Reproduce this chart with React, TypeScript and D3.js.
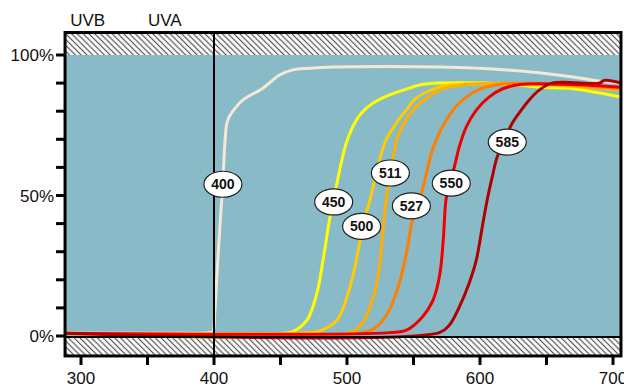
import * as d3 from "d3";
import { useEffect, useRef } from "react";

const WIDTH = 624;
const HEIGHT = 390;

// long-pass filter transmission curves: [wavelength nm, transmission %]
const curve400: [number, number][] = [
  [288, 1.2], [396, 1.2], [399, 1.5], [400.5, 8], [402, 20], [403, 28], [405, 43],
  [406.6, 54], [408.1, 68], [409.4, 75], [411, 77.6], [413.1, 79.3], [421.8, 84],
  [436.8, 88.2], [449.3, 92.9], [459.3, 94.7], [471.8, 95.3], [490, 95.7], [570, 95.7],
  [620, 94.7], [670, 92.2], [690, 90.7], [706, 90],
];
const curve450: [number, number][] = [
  [288, 1], [452, 1], [459.4, 1.6], [470, 5.7], [477.4, 15.3], [482, 27], [487.2, 42.3],
  [491.9, 53.1], [495.6, 61.5], [499.4, 68.6], [504.4, 74.5], [510.7, 79.3],
  [519.4, 82.8], [532, 85.8], [547, 88.2], [554.4, 89.3], [570, 90], [620, 89.7],
  [645, 88.5], [670, 88], [706, 85],
];
const curve500: [number, number][] = [
  [288, 1], [470, 1.2], [479.6, 1.8], [492.5, 5.7], [500, 13.9], [506, 24.6],
  [509.8, 34.2], [511.3, 38.8], [517.3, 48.4], [524.4, 62.6], [529.4, 69.8],
  [536.9, 75.7], [544.4, 80.4], [551.9, 84.6], [567.6, 88.3], [577.5, 89.3],
  [600, 89.8], [650, 89.5], [706, 87.5],
];
const curve511: [number, number][] = [
  [288, 1], [501.9, 1.2], [511.6, 4.6], [519.1, 12.8], [524.4, 24.6], [526.9, 36.7],
  [529.4, 48.4], [532, 56], [534.4, 62.6], [538.1, 70.9], [544.4, 76.9], [551.9, 81.6],
  [560, 84.6], [569.4, 87.5], [577, 88.6], [600, 89.8], [650, 89.5], [706, 87.5],
];
const curve527: [number, number][] = [
  [288, 1], [511.6, 1.2], [522.1, 3.2], [531.9, 9.3], [539.4, 18.9], [544.7, 29.5],
  [549.2, 41.3], [556, 50.9], [559.7, 58], [564.2, 66.2], [569.4, 72.2], [577, 78.6],
  [584.4, 82.9], [594.2, 86.5], [604.7, 88.6], [620, 89.8], [660, 89.6], [706, 88],
];
const curve550: [number, number][] = [
  [288, 1], [531.9, 1.2], [544.7, 2.1], [556.7, 6.8], [564, 12], [567.6, 17],
  [570.4, 24], [572.5, 35], [574.4, 48.4], [577, 54.4], [580.7, 60.1], [584.4, 67.3],
  [589.7, 74.4], [597.2, 80.4], [607, 85.1], [616.7, 87.9], [630, 89.5], [670, 89.5],
  [706, 88.5],
];
const curve585: [number, number][] = [
  [288, 1], [569.4, 1.2], [577, 3.9], [584.4, 10.3], [591.9, 18.9], [597.2, 27],
  [601.7, 38.8], [605.4, 48.4], [609.2, 56.6], [612.9, 63.7], [618, 69], [623.5, 75.1],
  [629.5, 79.4], [637, 84], [644.5, 87.5], [654.2, 90], [689.5, 90], [694, 91], [706, 90],
];

const filterNames = ["400", "450", "500", "511", "527", "550", "585"];
const filterCurves = [curve400, curve450, curve500, curve511, curve527, curve550, curve585];
const labelWavelengths = [406.7, 490, 511, 532.6, 548.4, 578.4, 620.5];
const labelTransmissions = [54, 47.7, 39, 58, 46.3, 54.4, 69];

const xTicks = [300, 350, 400, 450, 500, 550, 600, 650, 700];
const xTickLabels = [300, 400, 500, 600, 700];
const yTicks = [0, 10, 20, 30, 40, 50, 60, 70, 80, 90, 100];
const yTickLabels = [0, 50, 100];
const bandNames = ["UVB", "UVA"];
const bandCenters = [305, 363];

const COLORS = {
  plot: "#89BAC8",
  hatch: "#555555",
  curves: ["#F6E8D6", "#FFFF00", "#FFCC00", "#FFB000", "#FF7F00", "#EE0000", "#B00000"],
};
const FONT = "'Liberation Sans', Arial, Helvetica, sans-serif";

const App = () => {
  const svgRef = useRef<SVGSVGElement | null>(null);

  useEffect(() => {
    document.body.style.margin = "0";
    const svg = d3.select(svgRef.current);
    svg.selectAll("*").remove();

    const x = d3.scaleLinear().domain([300, 700]).range([81, 613]);
    const y = d3.scaleLinear().domain([0, 100]).range([336, 55]);

    const left = x(288);
    const right = x(706);
    const top = y(108);
    const bottom = y(-7.1);

    const defs = svg.append("defs");
    const pattern = defs
      .append("pattern")
      .attr("id", "hatch")
      .attr("patternUnits", "userSpaceOnUse")
      .attr("width", 8)
      .attr("height", 4.1)
      .attr("patternTransform", "rotate(45)");
    pattern.append("rect").attr("width", 8).attr("height", 4.1).attr("fill", "#fff");
    pattern
      .append("line")
      .attr("x1", 0).attr("x2", 8).attr("y1", 2).attr("y2", 2)
      .attr("stroke", COLORS.hatch)
      .attr("stroke-width", 1.2);

    defs
      .append("clipPath")
      .attr("id", "plot-clip")
      .append("rect")
      .attr("x", left)
      .attr("y", top)
      .attr("width", right - left)
      .attr("height", bottom - top);

    // hatched out-of-range bands and plot area
    svg.append("rect")
      .attr("x", left).attr("y", top)
      .attr("width", right - left).attr("height", y(100) - top)
      .attr("fill", "url(#hatch)");
    svg.append("rect")
      .attr("x", left).attr("y", y(0))
      .attr("width", right - left).attr("height", bottom - y(0))
      .attr("fill", "url(#hatch)");
    svg.append("rect")
      .attr("x", left).attr("y", y(100))
      .attr("width", right - left).attr("height", y(0) - y(100))
      .attr("fill", COLORS.plot);

    // curves
    const line = d3
      .line<[number, number]>()
      .x((d) => x(d[0]))
      .y((d) => y(d[1]))
      .curve(d3.curveCatmullRom.alpha(0.5));

    svg.append("g")
      .attr("clip-path", "url(#plot-clip)")
      .selectAll("path")
      .data(filterCurves)
      .enter()
      .append("path")
      .attr("d", (d) => line(d))
      .attr("fill", "none")
      .attr("stroke", (_, i) => COLORS.curves[i])
      .attr("stroke-width", 3)
      .attr("stroke-linejoin", "round");

    // 0% line and UVA/visible boundary
    svg.append("line")
      .attr("x1", left).attr("x2", right)
      .attr("y1", y(0) + 1).attr("y2", y(0) + 1)
      .attr("stroke", "#000").attr("stroke-width", 2);
    svg.append("line")
      .attr("x1", x(400)).attr("x2", x(400))
      .attr("y1", top).attr("y2", bottom)
      .attr("stroke", "#000").attr("stroke-width", 2);

    // frame
    svg.append("rect")
      .attr("x", left).attr("y", top)
      .attr("width", right - left).attr("height", bottom - top)
      .attr("fill", "none").attr("stroke", "#000").attr("stroke-width", 3);

    // x axis
    svg.append("g")
      .selectAll("line")
      .data(xTicks)
      .enter()
      .append("line")
      .attr("x1", (d) => x(d)).attr("x2", (d) => x(d))
      .attr("y1", bottom).attr("y2", bottom + 9)
      .attr("stroke", "#000").attr("stroke-width", 3);
    svg.append("g")
      .selectAll("text")
      .data(xTickLabels)
      .enter()
      .append("text")
      .attr("x", (d) => x(d))
      .attr("y", 384)
      .attr("text-anchor", "middle")
      .attr("font-family", FONT)
      .attr("font-size", 17)
      .attr("fill", "#111")
      .text((d) => d);

    // y axis
    svg.append("g")
      .selectAll("line")
      .data(yTicks)
      .enter()
      .append("line")
      .attr("x1", left - 9).attr("x2", left)
      .attr("y1", (d) => y(d)).attr("y2", (d) => y(d))
      .attr("stroke", "#000").attr("stroke-width", 3);
    svg.append("g")
      .selectAll("text")
      .data(yTickLabels)
      .enter()
      .append("text")
      .attr("x", left - 11)
      .attr("y", (d) => y(d))
      .attr("dy", "0.36em")
      .attr("text-anchor", "end")
      .attr("font-family", FONT)
      .attr("font-size", 17)
      .attr("fill", "#111")
      .text((d) => `${d}%`);

    // band names
    svg.append("g")
      .selectAll("text")
      .data(bandNames)
      .enter()
      .append("text")
      .attr("x", (_, i) => x(bandCenters[i]))
      .attr("y", 26)
      .attr("text-anchor", "middle")
      .attr("font-family", FONT)
      .attr("font-size", 17)
      .attr("fill", "#111")
      .text((d) => d);

    // filter labels
    const labels = svg.append("g")
      .selectAll("g")
      .data(filterNames)
      .enter()
      .append("g")
      .attr("transform", (_, i) => `translate(${x(labelWavelengths[i])},${y(labelTransmissions[i])})`);
    labels.append("ellipse")
      .attr("rx", 19).attr("ry", 13)
      .attr("fill", "#fff")
      .attr("stroke", "#222")
      .attr("stroke-width", 1.2);
    labels.append("text")
      .attr("dy", "0.36em")
      .attr("text-anchor", "middle")
      .attr("font-family", FONT)
      .attr("font-size", 14)
      .attr("font-weight", "bold")
      .attr("fill", "#111")
      .text((d) => d);
  }, []);

  return <svg ref={svgRef} width={WIDTH} height={HEIGHT} style={{ display: "block" }} />;
};

export default App;
